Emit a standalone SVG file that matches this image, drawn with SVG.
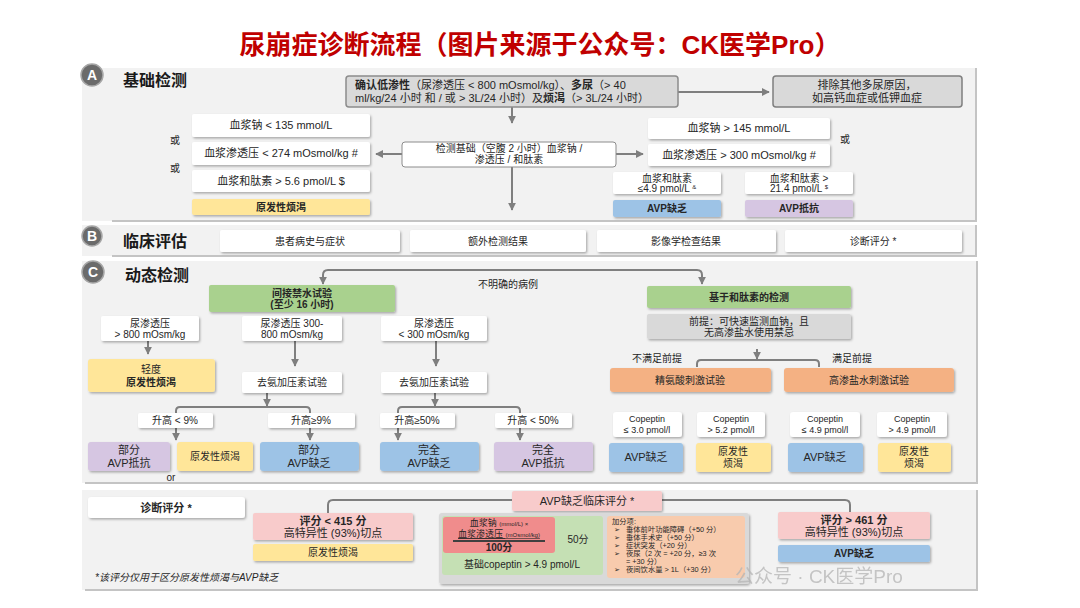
<svg xmlns="http://www.w3.org/2000/svg" width="1080" height="608" viewBox="0 0 1080 608">
<defs>
<filter id="sh" x="-10%" y="-20%" width="125%" height="150%"><feDropShadow dx="1.2" dy="1.5" stdDeviation="0.9" flood-color="#000" flood-opacity="0.3"/></filter>
<marker id="ar" viewBox="0 0 10 10" refX="9" refY="5" markerWidth="4" markerHeight="4" orient="auto"><path d="M0,0 L10,5 L0,10 z" fill="#7f7f7f"/></marker>
<style>
text{font-family:"Liberation Sans","Noto Sans CJK SC",sans-serif;fill:#262626}
.c{text-anchor:middle}
.s11{font-size:11px}.s10{font-size:10px}.s9{font-size:9px}.s7{font-size:7.3px}
.b{font-weight:bold}
.h{font-size:16px;font-weight:bold;fill:#1a1a1a}
.pan{fill:#f2f2f2}
.edge{fill:none;stroke:#c4c4c4;stroke-width:2}
.w{fill:#fff;filter:url(#sh)}
.yl{fill:#ffe699;filter:url(#sh)}
.bl{fill:#9dc3e6;filter:url(#sh)}
.pu{fill:#d6c6e2;filter:url(#sh)}
.gn{fill:#a9d18e;filter:url(#sh)}
.or{fill:#f4b183;filter:url(#sh)}
.pk{fill:#f8cbcb;filter:url(#sh)}
.gy{fill:#d9d9d9;filter:url(#sh)}
.ln{fill:none;stroke:#7f7f7f;stroke-width:2}
.circ{fill:#6b6b6b;stroke:#a6a6a6;stroke-width:1.5}
.cl{font-size:14px;font-weight:bold;fill:#fff;text-anchor:middle}
</style>
</defs>

<text x="540" y="54" class="c" style="font-size:26px;font-weight:bold;fill:#c00000">尿崩症诊断流程（图片来源于公众号：CK医学Pro）</text>

<!-- panels -->
<g id="panels">
<rect class="pan" x="82" y="68" width="894" height="153"/>
<path class="edge" d="M112,221 H976 V68"/>
<rect class="pan" x="82" y="225" width="894" height="31"/>
<path class="edge" d="M112,256 H976 V225"/>
<rect class="pan" x="82" y="261" width="894" height="222"/>
<path class="edge" d="M85,483 H977 V261"/>
<rect class="pan" x="82" y="490" width="894" height="100"/>
<path class="edge" d="M85,590 H977 V490"/>
</g>

<g id="secA-title"><circle class="circ" cx="92" cy="75" r="11"/><text x="92" y="80" class="cl">A</text><text x="123" y="86" class="h">基础检测</text></g>
<g id="secB-title"><circle class="circ" cx="92" cy="236" r="10"/><text x="92" y="241" class="cl">B</text><text x="123" y="247" class="h">临床评估</text></g>
<g id="secC-title"><circle class="circ" cx="93" cy="272" r="11"/><text x="93" y="277" class="cl">C</text><text x="125" y="281" class="h">动态检测</text></g>

<!-- connectors -->
<g id="connectors">
<line class="ln" x1="678" y1="92" x2="769" y2="92" marker-end="url(#ar)"/>
<line class="ln" x1="512" y1="107" x2="512" y2="123" marker-end="url(#ar)"/>
<line class="ln" x1="402" y1="154" x2="376" y2="154" marker-end="url(#ar)"/>
<line class="ln" x1="616" y1="154" x2="643" y2="154" marker-end="url(#ar)"/>
<line class="ln" x1="512" y1="167" x2="512" y2="210" marker-end="url(#ar)"/>

<path class="ln" d="M510,270 H328 Q323,270 323,275 V284" marker-end="url(#ar)"/>
<path class="ln" d="M510,270 H697 Q702,270 702,275 V284" marker-end="url(#ar)"/>
<line class="ln" x1="148" y1="341" x2="148" y2="354" marker-end="url(#ar)"/>
<line class="ln" x1="295" y1="341" x2="295" y2="366" marker-end="url(#ar)"/>
<line class="ln" x1="436" y1="341" x2="436" y2="366" marker-end="url(#ar)"/>
<line class="ln" x1="267" y1="393" x2="267" y2="406" marker-end="url(#ar)"/>
<path class="ln" d="M176,413 V411 Q176,407 180,407 H306 Q310,407 310,411 V413"/>
<line class="ln" x1="435" y1="393" x2="435" y2="406" marker-end="url(#ar)"/>
<path class="ln" d="M398,413 V411 Q398,407 402,407 H516 Q520,407 520,411 V413"/>
<line class="ln" x1="176" y1="428" x2="176" y2="440" marker-end="url(#ar)"/>
<line class="ln" x1="310" y1="428" x2="310" y2="440" marker-end="url(#ar)"/>
<line class="ln" x1="398" y1="428" x2="398" y2="440" marker-end="url(#ar)"/>
<line class="ln" x1="520" y1="428" x2="520" y2="440" marker-end="url(#ar)"/>
<line class="ln" x1="757" y1="349" x2="757" y2="359" marker-end="url(#ar)"/>
<path class="ln" d="M697,367 V364 Q697,360 701,360 H815 Q819,360 819,364 V367"/>
<path class="ln" d="M328,513 V505 Q328,500 333,500 H512"/>
<path class="ln" d="M662,500 H845 Q850,500 850,505 V512"/>
</g>

<!-- Section A -->
<g id="confirm">
<rect x="346" y="76" width="332" height="31" rx="3" fill="#d9d9d9" stroke="#8c8c8c" stroke-width="1.5"/>
<text x="355" y="89" class="s11"><tspan class="b">确认低渗性</tspan>（尿渗透压 &lt; 800 mOsmol/kg）、<tspan class="b">多尿</tspan>（&gt; 40</text>
<text x="355" y="102" class="s11">ml/kg/24 小时 和 / 或 &gt; 3L/24 小时）及<tspan class="b">烦渴</tspan>（&gt; 3L/24 小时）</text>
</g>
<g id="exclude">
<rect x="773" y="76" width="189" height="31" rx="3" fill="#d9d9d9" stroke="#7f7f7f" stroke-width="1.5"/>
<text x="867" y="89" class="c s11">排除其他多尿原因，</text>
<text x="867" y="102" class="c s11">如高钙血症或低钾血症</text>
</g>
<g id="baseline">
<rect x="402" y="142" width="214" height="25" rx="3" fill="#fff" stroke="#8c8c8c" stroke-width="1"/>
<text x="509" y="152" class="c s10">检测基础（空腹 2 小时）血浆钠 /</text>
<text x="509" y="163" class="c s10">渗透压 / 和肽素</text>
</g>
<g id="na-low"><rect class="w" x="192" y="114" width="178" height="23" rx="2"/><text x="281" y="129" class="c s11">血浆钠 &lt; 135 mmol/L</text></g>
<g id="osm-low"><rect class="w" x="192" y="142" width="178" height="23" rx="2"/><text x="281" y="157" class="c s11">血浆渗透压 &lt; 274 mOsmol/kg #</text></g>
<g id="cop-high"><rect class="w" x="192" y="170" width="178" height="22" rx="2"/><text x="281" y="185" class="c s11">血浆和肽素 &gt; 5.6 pmol/L $</text></g>
<g id="pp-a"><rect class="yl" x="192" y="199" width="178" height="16" rx="2"/><text x="281" y="211" class="c s10 b">原发性烦渴</text></g>
<text x="175" y="144" class="c s10">或</text>
<text x="175" y="172" class="c s10">或</text>
<g id="na-high"><rect class="w" x="648" y="118" width="182" height="21" rx="2"/><text x="739" y="132" class="c s11">血浆钠 &gt; 145 mmol/L</text></g>
<g id="osm-high"><rect class="w" x="648" y="144" width="182" height="22" rx="2"/><text x="739" y="159" class="c s11">血浆渗透压 &gt; 300 mOsmol/kg #</text></g>
<text x="845" y="143" class="c s10">或</text>
<g id="cop-low"><rect class="w" x="613" y="172" width="108" height="22" rx="2"/><text x="667" y="182" class="c s10">血浆和肽素</text><text x="667" y="192" class="c s10">≤4.9 pmol/L <tspan style="font-size:6px" dy="-3">&amp;</tspan></text></g>
<g id="cop-vhigh"><rect class="w" x="745" y="172" width="108" height="22" rx="2"/><text x="799" y="182" class="c s10">血浆和肽素 &gt;</text><text x="799" y="192" class="c s10">21.4 pmol/L <tspan style="font-size:6px" dy="-3">$</tspan></text></g>
<g id="avpd-a"><rect class="bl" x="613" y="200" width="108" height="17" rx="2"/><text x="667" y="212" class="c s10 b">AVP缺乏</text></g>
<g id="avpr-a"><rect class="pu" x="745" y="200" width="108" height="17" rx="2"/><text x="799" y="212" class="c s10 b">AVP抵抗</text></g>

<!-- Section B -->
<g id="b1"><rect class="w" x="220" y="230" width="180" height="22" rx="2"/><text x="310" y="245" class="c s10">患者病史与症状</text></g>
<g id="b2"><rect class="w" x="410" y="230" width="176" height="22" rx="2"/><text x="498" y="245" class="c s10">额外检测结果</text></g>
<g id="b3"><rect class="w" x="597" y="230" width="179" height="22" rx="2"/><text x="686" y="245" class="c s10">影像学检查结果</text></g>
<g id="b4"><rect class="w" x="785" y="230" width="177" height="22" rx="2"/><text x="873" y="245" class="c s10">诊断评分 *</text></g>

<!-- Section C -->
<text x="478" y="288" class="s10">不明确的病例</text>
<g id="wdt"><rect class="gn" x="209" y="285" width="186" height="27" rx="2"/><text x="302" y="297" class="c s10 b">间接禁水试验</text><text x="302" y="308" class="c s10 b">(至少 16 小时)</text></g>
<g id="u800"><rect class="w" x="101" y="316" width="98" height="25" rx="2"/><text x="150" y="327" class="c s10">尿渗透压</text><text x="150" y="338" class="c s10">&gt; 800 mOsm/kg</text></g>
<g id="u300800"><rect class="w" x="242" y="316" width="100" height="25" rx="2"/><text x="292" y="327" class="c s10">尿渗透压 300-</text><text x="292" y="338" class="c s10">800 mOsm/kg</text></g>
<g id="u300"><rect class="w" x="381" y="316" width="106" height="25" rx="2"/><text x="434" y="327" class="c s10">尿渗透压</text><text x="434" y="338" class="c s10">&lt; 300 mOsm/kg</text></g>
<g id="mildpp"><rect class="yl" x="88" y="359" width="127" height="33" rx="3"/><text x="151" y="373" class="c s10">轻度</text><text x="151" y="386" class="c s10 b">原发性烦渴</text></g>
<g id="ddavp1"><rect class="w" x="242" y="372" width="100" height="21" rx="2"/><text x="292" y="386" class="c s10">去氨加压素试验</text></g>
<g id="ddavp2"><rect class="w" x="381" y="372" width="106" height="21" rx="2"/><text x="434" y="386" class="c s10">去氨加压素试验</text></g>
<g id="l1"><rect class="w" x="138" y="413" width="75" height="15" rx="2"/><text x="175" y="424" class="c s10">升高 &lt; 9%</text></g>
<g id="l2"><rect class="w" x="268" y="413" width="87" height="15" rx="2"/><text x="311" y="424" class="c s10">升高≥9%</text></g>
<g id="l3"><rect class="w" x="380" y="413" width="75" height="15" rx="2"/><text x="417" y="424" class="c s10">升高≥50%</text></g>
<g id="l4"><rect class="w" x="495" y="413" width="77" height="15" rx="2"/><text x="533" y="424" class="c s10">升高 &lt; 50%</text></g>
<g id="r1"><rect class="pu" x="88" y="442" width="82" height="29" rx="3"/><text x="129" y="454" class="c s11">部分</text><text x="129" y="467" class="c s11">AVP抵抗</text></g>
<g id="r2"><rect class="yl" x="177" y="442" width="76" height="29" rx="3"/><text x="215" y="460" class="c s10">原发性烦渴</text></g>
<g id="r3"><rect class="bl" x="260" y="442" width="99" height="29" rx="3"/><text x="309" y="454" class="c s11">部分</text><text x="309" y="467" class="c s11">AVP缺乏</text></g>
<g id="r4"><rect class="bl" x="380" y="442" width="99" height="29" rx="3"/><text x="429" y="454" class="c s11">完全</text><text x="429" y="467" class="c s11">AVP缺乏</text></g>
<g id="r5"><rect class="pu" x="494" y="442" width="99" height="29" rx="3"/><text x="543" y="454" class="c s11">完全</text><text x="543" y="467" class="c s11">AVP抵抗</text></g>
<text x="171" y="481" class="c s10">or</text>

<g id="copbased"><rect class="gn" x="647" y="286" width="204" height="22" rx="2"/><text x="749" y="301" class="c s10 b">基于和肽素的检测</text></g>
<g id="premise"><rect class="gy" x="647" y="314" width="204" height="25" rx="2"/><text x="749" y="325" class="c s10">前提：可快速监测血钠，且</text><text x="749" y="336" class="c s10">无高渗盐水使用禁忌</text></g>
<text x="657" y="362" class="c s10">不满足前提</text>
<text x="852" y="362" class="c s10">满足前提</text>
<g id="arg"><rect class="or" x="610" y="368" width="161" height="24" rx="3"/><text x="690" y="384" class="c s10">精氨酸刺激试验</text></g>
<g id="hyp"><rect class="or" x="784" y="368" width="170" height="24" rx="3"/><text x="869" y="384" class="c s10">高渗盐水刺激试验</text></g>
<g id="c1"><rect class="w" x="613" y="412" width="69" height="25" rx="3"/><text x="647" y="422" class="c s9">Copeptin</text><text x="647" y="433" class="c s9">≤ 3.0 pmol/l</text></g>
<g id="c2"><rect class="w" x="697" y="412" width="68" height="25" rx="3"/><text x="731" y="422" class="c s9">Copeptin</text><text x="731" y="433" class="c s9">&gt; 5.2 pmol/l</text></g>
<g id="c3"><rect class="w" x="790" y="412" width="70" height="25" rx="3"/><text x="825" y="422" class="c s9">Copeptin</text><text x="825" y="433" class="c s9">≤ 4.9 pmol/l</text></g>
<g id="c4"><rect class="w" x="877" y="412" width="70" height="25" rx="3"/><text x="912" y="422" class="c s9">Copeptin</text><text x="912" y="433" class="c s9">&gt; 4.9 pmol/l</text></g>
<g id="d1"><rect class="bl" x="609" y="443" width="74" height="29" rx="3"/><text x="646" y="461" class="c s11">AVP缺乏</text></g>
<g id="d2"><rect class="yl" x="696" y="443" width="75" height="29" rx="3"/><text x="733" y="455" class="c s10">原发性</text><text x="733" y="467" class="c s10">烦渴</text></g>
<g id="d3"><rect class="bl" x="788" y="443" width="75" height="29" rx="3"/><text x="825" y="461" class="c s11">AVP缺乏</text></g>
<g id="d4"><rect class="yl" x="878" y="443" width="73" height="29" rx="3"/><text x="914" y="455" class="c s10">原发性</text><text x="914" y="467" class="c s10">烦渴</text></g>

<!-- Section D -->
<g id="score"><rect class="w" x="88" y="497" width="157" height="21" rx="3"/><text x="166" y="512" class="c s11 b">诊断评分 *</text></g>
<g id="clinhdr"><rect class="pk" x="512" y="491" width="150" height="20" rx="2"/><text x="587" y="505" class="c s11">AVP缺乏临床评分 *</text></g>
<g id="lo"><rect class="pk" x="253" y="513" width="160" height="27" rx="2"/><text x="333" y="525" class="c s11 b">评分 &lt; 415 分</text><text x="333" y="537" class="c s11">高特异性 (93%)切点</text></g>
<g id="lo-pp"><rect class="yl" x="253" y="544" width="160" height="17" rx="2"/><text x="333" y="556" class="c s10">原发性烦渴</text></g>
<text x="95" y="581" class="s10" style="font-style:italic">*该评分仅用于区分原发性烦渴与AVP缺乏</text>
<g id="calc">
<rect class="gy" x="439" y="513" width="310" height="71" rx="3"/>
<rect x="442" y="516" width="161" height="59" rx="3" fill="#c5e0b4"/>
<rect x="607" y="516" width="138" height="62" rx="3" fill="#f8cbad"/>
<rect x="443" y="517" width="112" height="36" rx="3" fill="#f08c8c"/>
<text x="499" y="526" class="c s9">血浆钠 <tspan style="font-size:6px">(mmol/L) ×</tspan></text>
<text x="499" y="537" class="c s9" text-decoration="underline">血浆渗透压 <tspan style="font-size:6px">(mOsmol/kg)</tspan></text>
<line x1="453" y1="541" x2="545" y2="541" stroke="#404040" stroke-width="2"/>
<text x="499" y="551" class="c s10 b">100分</text>
<text x="578" y="543" class="c s10">50分</text>
<text x="522" y="568" class="c s10">基础copeptin &gt; 4.9 pmol/L</text>
<text x="612" y="524" class="s7">加分项:</text>
<g class="s7">
<text x="614" y="532" class="s7">➢</text><text x="626" y="532" class="s7">垂体前叶功能障碍（+50 分）</text>
<text x="614" y="540" class="s7">➢</text><text x="626" y="540" class="s7">垂体手术史（+50 分）</text>
<text x="614" y="548" class="s7">➢</text><text x="626" y="548" class="s7">症状突发（+20 分）</text>
<text x="614" y="556" class="s7">➢</text><text x="626" y="556" class="s7">夜尿（2 次 = +20 分，≥3 次</text>
<text x="626" y="564" class="s7">= +30 分）</text>
<text x="614" y="572" class="s7">➢</text><text x="626" y="572" class="s7">夜间饮水量 &gt; 1L（+30 分）</text>
</g>
</g>
<g id="hi"><rect class="pk" x="778" y="512" width="152" height="27" rx="2"/><text x="854" y="524" class="c s11 b">评分 &gt; 461 分</text><text x="854" y="536" class="c s11">高特异性 (93%)切点</text></g>
<g id="hi-avp"><rect class="bl" x="778" y="545" width="152" height="17" rx="2"/><text x="854" y="557" class="c s10 b">AVP缺乏</text></g>

<text x="735" y="583" style="font-size:19px;fill:#b5b5b5;opacity:0.75">公众号 · CK医学Pro</text>
</svg>
